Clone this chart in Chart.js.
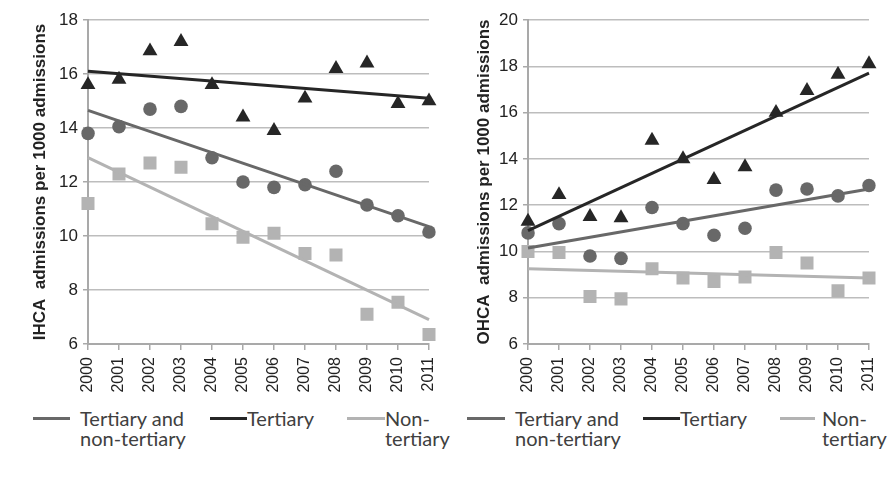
<!DOCTYPE html>
<html lang="en">
<head>
    <meta charset="UTF-8">
    <title>IHCA / OHCA admissions</title>
    <script src="https://cdn.jsdelivr.net/npm/chart.js@4"></script>
    <style>
        body {
            margin: 0;
            width: 891px;
            height: 483px;
            background: #fff;
            position: relative;
            overflow: hidden;
        }

        canvas {
            position: absolute;
            top: 0;
        }

        #ihcaChart { left: 0; }
        #ohcaChart { left: 445px; }

        .key {
            position: absolute;
            top: 408px;
            font-family: 'Lato', sans-serif;
            font-size: 20px;
            line-height: 20px;
            color: #404040;
        }

        .key .swatch {
            position: absolute;
            top: 9px;
            height: 3px;
        }
    </style>
</head>
<body>
    <canvas id="ihcaChart" width="445" height="400"></canvas>
    <canvas id="ohcaChart" width="446" height="400"></canvas>

    <div id="legend"></div>

    <script>
        const years = ['2000', '2001', '2002', '2003', '2004', '2005', '2006', '2007', '2008', '2009', '2010', '2011'];

        // in-hospital cardiac arrest
        const ihcaAll = [13.8, 14.05, 14.7, 14.8, 12.9, 12.0, 11.8, 11.9, 12.4, 11.15, 10.75, 10.15];
        const ihcaTertiary = [15.6, 15.8, 16.85, 17.2, 15.6, 14.4, 13.9, 15.1, 16.2, 16.4, 14.9, 15.0];
        const ihcaNonTertiary = [11.2, 12.3, 12.7, 12.55, 10.45, 9.95, 10.1, 9.35, 9.3, 7.1, 7.55, 6.35];
        // trend lines, value at 2000 and at 2011
        const ihcaAllTrend = [14.65, 10.35];
        const ihcaTertiaryTrend = [16.1, 15.1];
        const ihcaNonTertiaryTrend = [12.9, 6.9];

        // out-of-hospital cardiac arrest
        const ohcaAll = [10.8, 11.2, 9.8, 9.7, 11.9, 11.2, 10.7, 11.0, 12.65, 12.7, 12.4, 12.85];
        const ohcaTertiary = [11.3, 12.45, 11.5, 11.45, 14.8, 14.0, 13.1, 13.65, 16.0, 16.95, 17.65, 18.1];
        const ohcaNonTertiary = [10.0, 9.95, 8.05, 7.95, 9.25, 8.85, 8.7, 8.9, 9.95, 9.5, 8.3, 8.85];
        const ohcaAllTrend = [10.15, 12.7];
        const ohcaTertiaryTrend = [10.9, 17.7];
        const ohcaNonTertiaryTrend = [9.25, 8.85];

        const legendLabels = ['Tertiary and<br>non-tertiary', 'Tertiary', 'Non-<br>tertiary'];

        const colAll = '#686868';
        const colTertiary = '#262626';
        const colNon = '#b3b3b3';
        const gridCol = '#bdbdbd';
        const axisCol = '#a9a9a9';

        // only first and last year, line spans the gap
        function trend(ends) {
            return years.map((y, i) => i === 0 ? ends[0] : (i === years.length - 1 ? ends[1] : null));
        }

        function pointSet(data, style, color, radius) {
            return {
                data: data,
                showLine: false,
                pointStyle: style,
                pointRadius: radius,
                pointHoverRadius: radius,
                pointBackgroundColor: color,
                pointBorderColor: color,
                pointBorderWidth: 0,
                order: 1
            };
        }

        function lineSet(data, color) {
            return {
                data: data,
                borderColor: color,
                borderWidth: 3,
                pointRadius: 0,
                spanGaps: true,
                fill: false,
                order: 0
            };
        }

        function makeChart(id, title, yMax, all, tert, non, allT, tertT, nonT, pad, yWidth) {
            return new Chart(document.getElementById(id), {
                type: 'line',
                data: {
                    labels: years,
                    datasets: [
                        pointSet(non, 'rect', colNon, 9.2),
                        pointSet(all, 'circle', colAll, 6.8),
                        pointSet(tert, 'triangle', colTertiary, 8.6),
                        lineSet(trend(nonT), colNon),
                        lineSet(trend(allT), colAll),
                        lineSet(trend(tertT), colTertiary)
                    ]
                },
                options: {
                    responsive: false,
                    animation: false,
                    layout: { padding: pad },
                    plugins: {
                        legend: { display: false },
                        tooltip: { enabled: false }
                    },
                    scales: {
                        x: {
                            offset: false,
                            grid: {
                                drawOnChartArea: false,
                                drawTicks: true,
                                tickLength: 6,
                                color: axisCol,
                                lineWidth: 1.5
                            },
                            border: { color: axisCol, width: 2 },
                            ticks: {
                                minRotation: 90,
                                maxRotation: 90,
                                autoSkip: false,
                                padding: 7,
                                color: '#222',
                                font: { family: 'Liberation Sans', size: 16 }
                            },
                            afterFit: s => {
                                s.height = 56;
                                s.paddingLeft = 0;
                                s.paddingRight = 0;
                            }
                        },
                        y: {
                            min: 6,
                            max: yMax,
                            ticks: {
                                stepSize: 2,
                                padding: 5,
                                color: '#222',
                                font: { family: 'Liberation Sans', size: 17 }
                            },
                            grid: {
                                color: gridCol,
                                lineWidth: 1.5,
                                tickLength: 5,
                                tickColor: axisCol
                            },
                            border: { color: axisCol, width: 2 },
                            title: {
                                display: true,
                                text: title,
                                color: '#222',
                                font: { family: 'Liberation Sans', size: 17, weight: 'bold' }
                            },
                            afterFit: s => { s.width = yWidth; }
                        }
                    }
                }
            });
        }

        makeChart('ihcaChart', 'IHCA  admissions per 1000 admissions', 18,
            ihcaAll, ihcaTertiary, ihcaNonTertiary,
            ihcaAllTrend, ihcaTertiaryTrend, ihcaNonTertiaryTrend,
            { left: 26, right: 16, top: 20, bottom: 0 }, 62);

        makeChart('ohcaChart', 'OHCA  admissions per 1000 admissions', 20,
            ohcaAll, ohcaTertiary, ohcaNonTertiary,
            ohcaAllTrend, ohcaTertiaryTrend, ohcaNonTertiaryTrend,
            { left: 25, right: 22, top: 20, bottom: 0 }, 58);

        // html legend under each panel: [line start, line end, text start]
        const keyPos = [
            [33, 70, 80], [210, 247, 247], [347, 385, 385],
            [467, 505, 515], [643, 680, 680], [780, 815, 822]
        ];
        const keyCols = [colAll, colTertiary, colNon];
        const legend = document.getElementById('legend');
        keyPos.forEach((p, i) => {
            const k = i % 3;
            const sw = document.createElement('div');
            sw.className = 'key';
            sw.style.left = p[0] + 'px';
            sw.innerHTML = '<div class="swatch" style="left:0;width:' + (p[1] - p[0]) + 'px;background:' + keyCols[k] + '"></div>'
                + '<div style="position:absolute;left:' + (p[2] - p[0]) + 'px;white-space:nowrap">' + legendLabels[k] + '</div>';
            legend.appendChild(sw);
        });
    </script>
</body>
</html>
